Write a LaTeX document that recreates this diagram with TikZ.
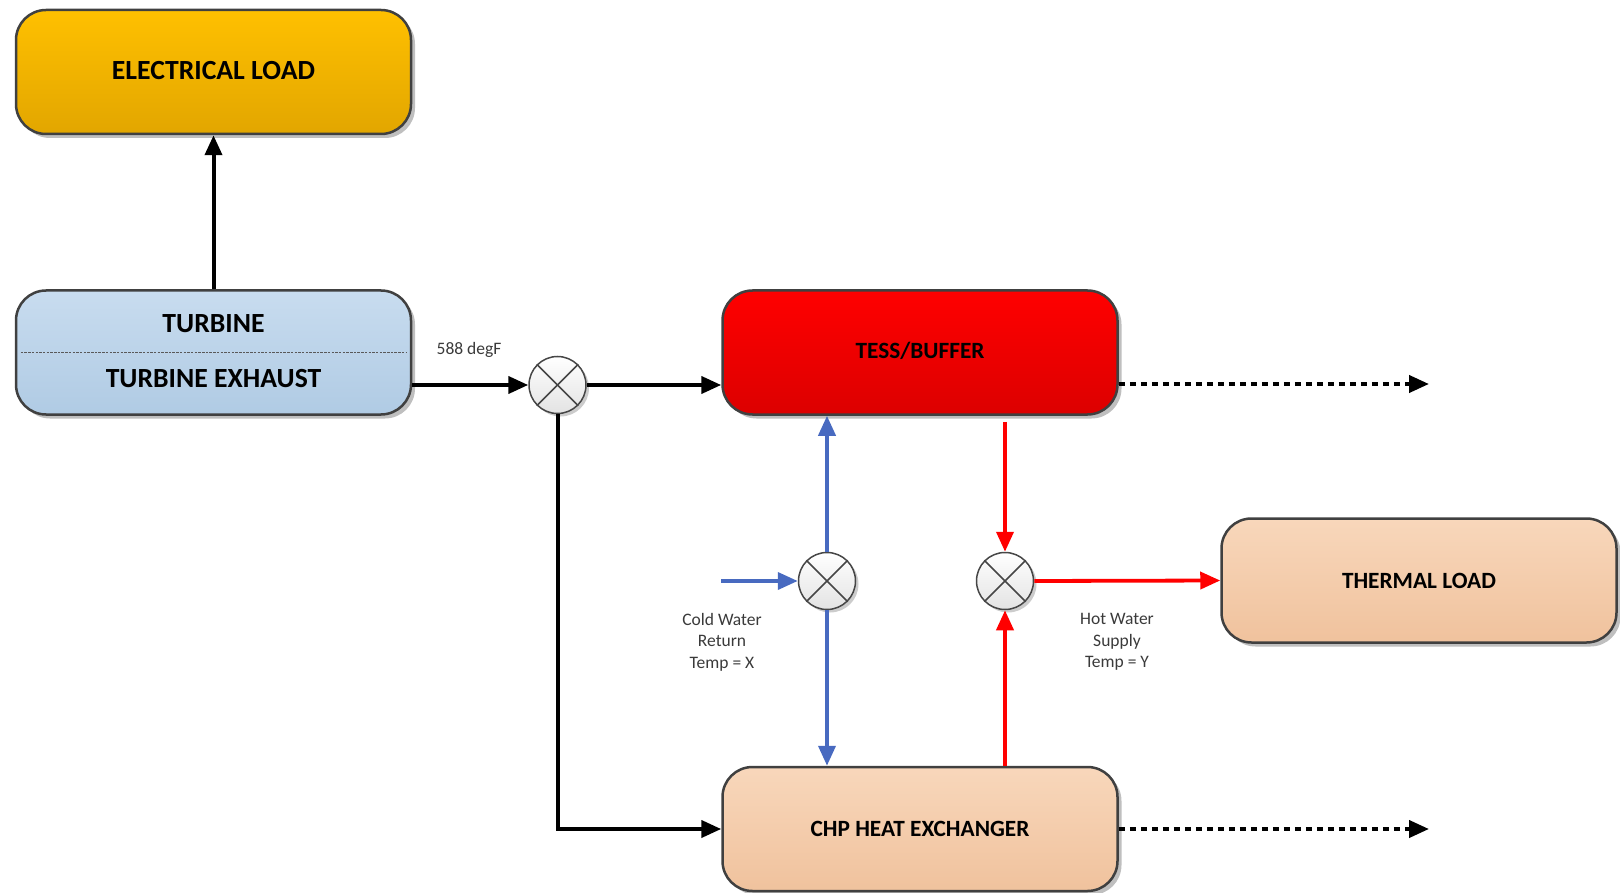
\documentclass[tikz,border=0pt]{standalone}
\usepackage{fontspec}
\setmainfont{Carlito}
\usetikzlibrary{arrows.meta,shadows,calc}
\definecolor{bordc}{HTML}{404040}
\definecolor{goldtop}{HTML}{FFC000}
\definecolor{goldbot}{HTML}{E2A600}
\definecolor{bluetop}{HTML}{C8DCEF}
\definecolor{bluebot}{HTML}{B0CBE4}
\definecolor{redtop}{HTML}{FF0000}
\definecolor{redbot}{HTML}{DC0000}
\definecolor{peachtop}{HTML}{F8D7BB}
\definecolor{peachbot}{HTML}{F0C29D}
\definecolor{flowblue}{RGB}{72,106,192}
\definecolor{flowred}{RGB}{255,0,0}
\definecolor{labgray}{HTML}{3A3A3A}
\begin{document}
\begin{tikzpicture}[x=1pt,y=-1pt,
  box/.style={rectangle, rounded corners=30pt, draw=bordc, line width=2.5pt,
    minimum width=395pt, minimum height=124pt, inner sep=0pt,
    drop shadow={shadow xshift=4pt, shadow yshift=-4pt, opacity=0.25, fill=black}},
  bigtxt/.style={font=\fontsize{27.7}{32}\selectfont\bfseries, text=black},
  midtxt/.style={font=\fontsize{23.3}{27}\selectfont\bfseries, text=black},
  smalltxt/.style={font=\fontsize{17.5}{21.5}\selectfont, text=labgray, align=center},
  mixer/.style={circle, draw=gray!55!black, line width=1.5pt, minimum size=57pt, inner sep=0pt,
    top color=white, bottom color=gray!22,
    drop shadow={shadow xshift=3pt, shadow yshift=-3pt, opacity=0.2, fill=black}},
  mixx/.style={draw=gray!55!black, line width=1.5pt},
  tip/.style={-{Triangle[length=20pt,width=17pt]}},
  blk/.style={tip, line width=4pt, draw=black},
  dotln/.style={tip, line width=4pt, draw=black, dash pattern=on 6pt off 5pt},
  bln/.style={tip, line width=3.8pt, draw=flowblue, color=flowblue},
  rln/.style={tip, line width=3.8pt, draw=flowred, color=flowred}
]
\useasboundingbox (0,0) rectangle (1620,893);

% boxes
\node[box, top color=goldtop, bottom color=goldbot] (elec) at (213.5,72) {};
\node[bigtxt] (elect) at ($(elec.center)+(0,-1.5)$) {ELECTRICAL LOAD};

\node[box, top color=bluetop, bottom color=bluebot] (turb) at (213.5,352.5) {};
\node[bigtxt] (turbt) at ($(turb.center)+(0,-29)$) {TURBINE};
\node[bigtxt] (turbx) at ($(turb.center)+(0,26.5)$) {TURBINE EXHAUST};
\draw[gray!70!black, line width=1pt, dash pattern=on 2.5pt off 1.2pt]
  ($(turb.west)+(6,0)$) -- ($(turb.east)+(-6,0)$);

\node[box, top color=redtop, bottom color=redbot] (tess) at (920,352.5) {};
\node[midtxt] (tesst) at ($(tess.center)+(0,-1.5)$) {TESS/BUFFER};

\node[box, top color=peachtop, bottom color=peachbot] (therm) at (1419,580.5) {};
\node[midtxt] (thermt) at (therm.center) {THERMAL LOAD};

\node[box, top color=peachtop, bottom color=peachbot] (chp) at (920,829) {};
\node[midtxt] (chpt) at (chp.center) {CHP HEAT EXCHANGER};

% mixers
\node[mixer] (m1) at (557.5,385) {};
\node[mixer] (mb) at (827,581) {};
\node[mixer] (mr) at (1005,581) {};
\foreach \m in {m1,mb,mr}{
  \draw[mixx] (\m.north east) -- (\m.south west);
  \draw[mixx] (\m.north west) -- (\m.south east);
}

% free ends
\coordinate (cwin) at (721,581);
\coordinate (tessout) at (1429,384);
\coordinate (chpout) at (1429,829);

% black connectors
\draw[blk] (turb.east |- m1) -- (m1.west);
\draw[blk] (turb.north) -- (elec.south);
\draw[blk] (m1.east) -- (tess.west |- m1.east);
\draw[blk] (m1.south) -- (m1 |- chp.west) -- (chp.west);
\draw[dotln] (tess.east |- tessout) -- (tessout);
\draw[dotln] (chp.east) -- (chpout);

% blue connectors
\draw[bln] (cwin) -- (mb.west);
\draw[bln] (mb.north) -- (mb |- tess.south);
\draw[bln] (mb.south) -- (mb |- chp.north);

% red connectors
\draw[rln] ($(mr |- tess.south)+(0,6)$) -- (mr.north);
\draw[rln] (mr |- chp.north) -- (mr.south);
\draw[rln] (mr.east) -- (therm.west);

% labels
\node[smalltxt] (degf) at (469,350) {588 degF};
\node[smalltxt] (cwl) at (722,642) {Cold Water\\Return\\Temp = X};
\node[smalltxt] (hwl) at (1117,642) {Hot Water\\Supply\\Temp = Y};
\end{tikzpicture}
\end{document}
